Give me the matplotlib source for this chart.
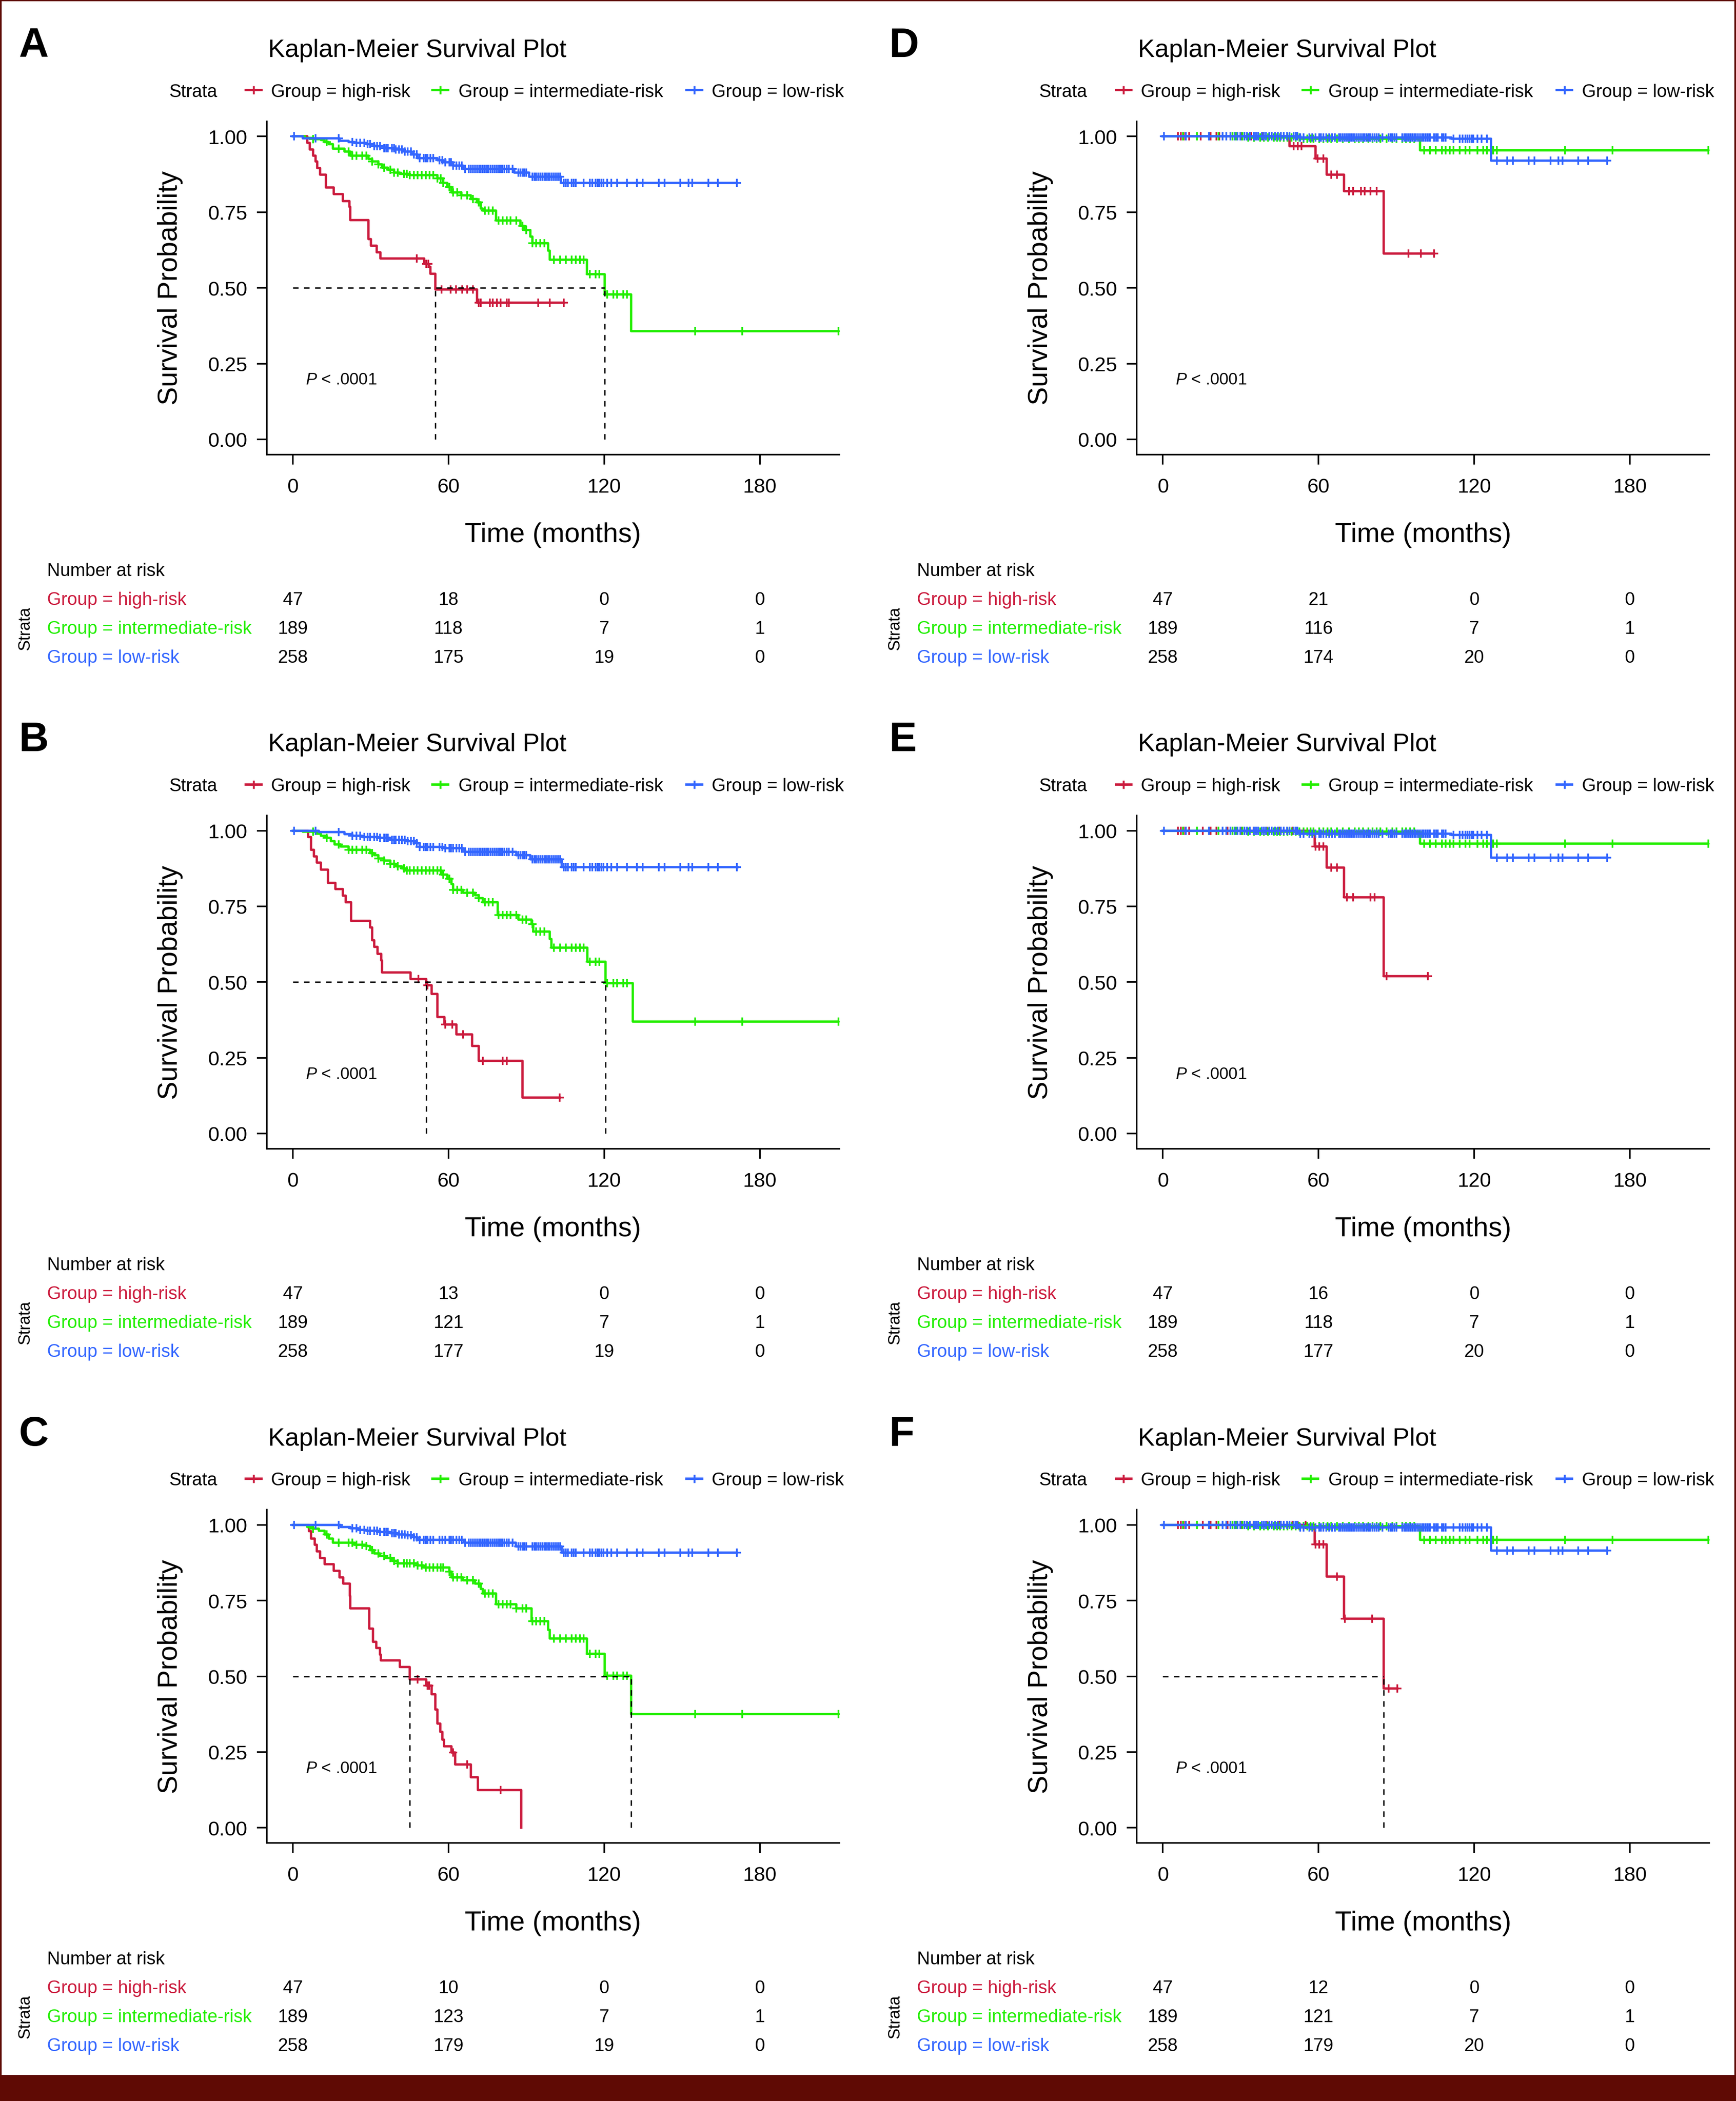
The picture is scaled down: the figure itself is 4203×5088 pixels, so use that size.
import matplotlib.pyplot as plt
import numpy as np
from matplotlib.lines import Line2D
from matplotlib.patches import Rectangle
from matplotlib import transforms

plt.rcParams['font.family'] = ['Liberation Sans', 'DejaVu Sans']
plt.rcParams['mathtext.fontset'] = 'custom'
plt.rcParams['mathtext.it'] = 'Liberation Sans:italic'
plt.rcParams['mathtext.rm'] = 'Liberation Sans'

# colours
RED, GREEN, BLUE = '#CB1B3D', '#22EE00', '#3366FF'
BORDER = '#5F0A04'

groups = ['Group = high-risk', 'Group = intermediate-risk', 'Group = low-risk']
risk_times = [0, 60, 120, 180]

# ---- panel A ----
A_high_t = [0, 5.5, 6.5, 7.8, 8.8, 9.4, 10.5, 12.8, 15.8, 19.2, 21.8, 22.2, 29.1, 30.1, 32.4, 33.7, 50.7, 52.4, 53.1, 55.0, 71.0, 104.5]
A_high_s = [1, 0.979, 0.957, 0.937, 0.917, 0.896, 0.874, 0.832, 0.810, 0.787, 0.768, 0.724, 0.661, 0.640, 0.618, 0.597, 0.579, 0.570, 0.547, 0.495, 0.451, 0.451]
A_high_c = [47.8, 51.5, 52.3, 57.3, 60.8, 62.9, 65.3, 67.2, 69.4, 71.7, 72.5, 76.0, 77.1, 78.6, 80.1, 82.4, 83.2, 94.6, 99.1, 104.5]
A_int_t = [0, 4.7, 7.8, 10.8, 12.3, 13.8, 15.4, 19.9, 22.2, 29.1, 30.6, 32.9, 34.4, 36.7, 39.0, 41.3, 45.1, 55.7, 58.0, 59.5, 61.1, 64.9, 68.7, 71.0, 72.5, 73.3, 78.3, 87.7, 89.2, 91.5, 92.3, 98.4, 99.1, 113.3, 120.2, 130.4, 210.3]
A_int_s = [1, 0.995, 0.991, 0.988, 0.982, 0.975, 0.960, 0.950, 0.936, 0.925, 0.918, 0.908, 0.897, 0.890, 0.881, 0.877, 0.872, 0.861, 0.847, 0.833, 0.815, 0.805, 0.794, 0.783, 0.762, 0.755, 0.723, 0.705, 0.691, 0.670, 0.647, 0.623, 0.593, 0.545, 0.478, 0.357, 0.357]
A_low_t = [0, 3.9, 18.0, 21.5, 23.7, 28.3, 31.4, 35.2, 39.7, 42.8, 45.8, 48.1, 55.7, 58.0, 61.8, 65.6, 85.4, 91.1, 103.3, 171.2]
A_low_s = [1, 0.994, 0.986, 0.982, 0.979, 0.975, 0.968, 0.961, 0.957, 0.950, 0.940, 0.929, 0.922, 0.915, 0.904, 0.893, 0.881, 0.867, 0.846, 0.846]
A_risk = [[47, 18, 0, 0], [189, 118, 7, 1], [258, 175, 19, 0]]

# ---- panel B ----
B_high_t = [0, 5.9, 7.0, 8.2, 9.3, 10.8, 13.5, 16.4, 19.2, 20.4, 22.5, 29.8, 30.6, 31.4, 32.6, 34.1, 34.4, 45.4, 51.5, 53.5, 55.7, 58.5, 63.0, 69.1, 71.7, 88.5, 102.9]
B_high_s = [1, 0.979, 0.937, 0.915, 0.894, 0.871, 0.828, 0.807, 0.785, 0.764, 0.702, 0.681, 0.638, 0.617, 0.593, 0.571, 0.532, 0.510, 0.489, 0.461, 0.384, 0.360, 0.328, 0.289, 0.240, 0.119, 0.119]
B_high_c = [48.4, 51.9, 58.8, 61.5, 65.6, 73.3, 80.9, 82.4, 102.9]
B_int_t = [0, 3.9, 9.3, 10.8, 13.1, 14.6, 16.1, 18.4, 21.5, 29.8, 31.4, 32.9, 35.2, 37.5, 39.7, 42.0, 43.5, 57.3, 59.5, 61.1, 61.8, 65.6, 70.2, 71.7, 73.3, 78.9, 87.0, 92.0, 92.6, 99.1, 99.6, 113.6, 120.5, 131.1, 210.8]
B_int_s = [1, 0.997, 0.990, 0.983, 0.976, 0.965, 0.955, 0.947, 0.937, 0.926, 0.919, 0.908, 0.901, 0.891, 0.882, 0.876, 0.869, 0.855, 0.841, 0.823, 0.805, 0.795, 0.787, 0.777, 0.763, 0.721, 0.706, 0.692, 0.667, 0.642, 0.613, 0.567, 0.496, 0.370, 0.370]
B_low_t = [0, 10.0, 19.9, 23.0, 26.8, 32.9, 37.5, 43.5, 47.4, 48.9, 58.0, 65.6, 66.4, 86.2, 91.5, 103.7, 171.5]
B_low_s = [1, 0.996, 0.989, 0.983, 0.979, 0.976, 0.970, 0.965, 0.958, 0.946, 0.942, 0.937, 0.930, 0.919, 0.906, 0.880, 0.880]
B_risk = [[47, 13, 0, 0], [189, 121, 7, 1], [258, 177, 19, 0]]

# ---- panel C ----
C_high_t = [0, 6.2, 7.0, 8.5, 9.3, 10.5, 12.3, 15.8, 18.0, 19.5, 21.9, 22.2, 29.5, 30.9, 32.1, 33.6, 33.9, 41.3, 45.1, 51.5, 53.5, 55.0, 55.7, 56.9, 57.7, 58.3, 61.1, 62.6, 68.7, 71.3, 88.0]
C_high_s = [1, 0.979, 0.955, 0.934, 0.913, 0.891, 0.870, 0.849, 0.827, 0.806, 0.765, 0.724, 0.657, 0.614, 0.593, 0.571, 0.552, 0.531, 0.490, 0.470, 0.441, 0.390, 0.344, 0.316, 0.291, 0.269, 0.248, 0.209, 0.166, 0.124, 0.0]
C_high_c = [48.1, 51.9, 52.6, 61.8, 67.2, 80.1]
C_int_t = [0, 5.5, 7.8, 10.0, 12.3, 13.8, 15.4, 23.7, 28.3, 29.8, 31.4, 33.6, 35.9, 38.2, 40.5, 48.1, 50.4, 60.3, 61.1, 65.6, 70.2, 72.5, 73.3, 78.3, 86.2, 92.0, 98.4, 99.1, 113.3, 120.2, 130.4, 210.3]
C_int_s = [1, 0.993, 0.987, 0.980, 0.969, 0.955, 0.941, 0.934, 0.930, 0.916, 0.905, 0.898, 0.891, 0.881, 0.873, 0.866, 0.859, 0.845, 0.827, 0.817, 0.806, 0.788, 0.774, 0.738, 0.724, 0.682, 0.653, 0.625, 0.574, 0.502, 0.375, 0.375]
C_low_t = [0, 18.4, 22.2, 25.3, 28.3, 32.9, 37.5, 40.5, 43.5, 46.6, 48.1, 66.1, 85.9, 103.7, 171.2]
C_low_s = [1, 0.993, 0.989, 0.984, 0.980, 0.977, 0.973, 0.969, 0.966, 0.959, 0.950, 0.941, 0.929, 0.908, 0.908]
C_risk = [[47, 10, 0, 0], [189, 123, 7, 1], [258, 179, 19, 0]]

# ---- panel D ----
D_high_t = [0, 48.9, 58.8, 63.1, 69.9, 85.1, 104.5]
D_high_s = [1, 0.968, 0.927, 0.874, 0.819, 0.613, 0.613]
D_high_c = [5.9, 7.0, 8.1, 10.1, 13.1, 14.6, 18.4, 20.7, 21.8, 26.0, 30.5, 34.0, 38.5, 42.0, 45.5, 50.4, 52.0, 53.5, 59.6, 61.8, 64.9, 67.2, 71.7, 73.3, 76.3, 77.8, 80.1, 82.4, 94.6, 99.5, 104.5]
D_int_t = [0, 32.9, 53.5, 99.2, 210.4]
D_int_s = [1, 0.996, 0.993, 0.954, 0.954]
D_low_t = [0, 52.7, 111.3, 126.6, 171.2]
D_low_s = [1, 0.996, 0.992, 0.920, 0.920]
D_risk = [[47, 21, 0, 0], [189, 116, 7, 1], [258, 174, 20, 0]]

# ---- panel E ----
E_high_t = [0, 58.5, 63.1, 69.9, 85.1, 102.2]
E_high_s = [1, 0.947, 0.878, 0.780, 0.520, 0.520]
E_high_c = [5.9, 7.0, 8.1, 10.1, 13.1, 15.4, 18.4, 20.7, 25.0, 30.0, 35.0, 40.0, 45.0, 50.0, 58.8, 60.3, 61.8, 64.9, 67.2, 71.0, 73.3, 80.1, 81.6, 86.2, 102.2]
E_int_t = [0, 32.9, 99.2, 210.4]
E_int_s = [1, 0.997, 0.957, 0.957]
E_low_t = [0, 52.7, 111.3, 126.6, 171.2]
E_low_s = [1, 0.990, 0.986, 0.911, 0.911]
E_risk = [[47, 16, 0, 0], [189, 118, 7, 1], [258, 177, 20, 0]]

# ---- panel F ----
F_high_t = [0, 58.5, 63.1, 69.9, 85.1, 90.3]
F_high_s = [1, 0.936, 0.829, 0.690, 0.460, 0.460]
F_high_c = [5.9, 7.0, 8.1, 10.1, 13.1, 15.4, 18.4, 20.7, 25.0, 30.0, 35.0, 40.0, 45.0, 50.0, 52.0, 55.0, 58.8, 60.3, 61.8, 67.2, 70.2, 80.6, 87.0, 90.3]
F_int_t = [0, 32.9, 99.2, 210.4]
F_int_s = [1, 0.996, 0.950, 0.950]
F_low_t = [0, 52.7, 126.6, 171.2]
F_low_s = [1, 0.991, 0.915, 0.915]
F_risk = [[47, 12, 0, 0], [189, 121, 7, 1], [258, 179, 20, 0]]

# censoring times shared by the intermediate and low-risk groups
int_cens = [7.8, 13.1, 17.7, 21.5, 23.0, 24.5, 26.8, 28.3, 30.6, 32.9, 35.2, 37.5, 39.0, 40.5, 42.8, 44.0, 45.1, 46.6,
            48.1, 49.6, 51.2, 52.7, 54.2, 55.7, 57.0, 58.0, 60.3, 61.8, 63.4, 64.9, 67.2, 69.4, 71.7, 74.0, 75.5, 77.1,
            79.3, 80.9, 82.4, 83.9, 86.2, 88.5, 90.0, 92.3, 93.8, 95.3, 96.9, 100.7, 103.0, 105.2, 107.5, 109.0, 110.6,
            112.1, 114.4, 116.7, 118.2, 121.2, 123.5, 125.0, 127.3, 128.8, 155.0, 173.3, 210.3]
low_cens = [0.5, 8.8, 17.7, 23.0, 24.5, 26.0, 27.6, 28.8, 29.8, 31.4, 32.5, 33.6, 35.2, 36.0, 36.7, 38.2, 39.0, 39.7,
            41.0, 42.0, 43.2, 44.3, 45.5, 46.6, 47.8, 48.9, 50.4, 51.2, 51.9, 53.0, 54.2, 56.5, 57.6, 58.8, 60.3, 61.0,
            61.8, 63.0, 64.1, 65.2, 66.4, 67.9, 68.6, 69.4, 70.2, 71.0, 71.8, 72.5, 73.3, 74.0, 74.8, 75.5, 76.3, 77.1,
            77.8, 78.6, 79.4, 80.1, 80.8, 81.6, 82.4, 83.2, 84.7, 87.0, 87.8, 88.5, 89.2, 90.0, 92.3, 93.1, 93.8, 94.5,
            95.3, 96.1, 96.9, 97.6, 98.4, 99.1, 99.9, 100.6, 101.4, 102.2, 103.0, 104.5, 105.3, 106.0, 107.5, 108.2,
            109.0, 112.1, 114.4, 115.5, 116.7, 117.5, 118.2, 119.0, 119.7, 121.2, 122.8, 125.0, 128.8, 132.7, 134.9,
            141.0, 143.3, 149.4, 152.5, 154.0, 160.1, 163.9, 171.2]

panels = [
    ('A', 0, 0, [(A_high_t, A_high_s, A_high_c), (A_int_t, A_int_s, int_cens), (A_low_t, A_low_s, low_cens)], A_risk),
    ('B', 0, 1, [(B_high_t, B_high_s, B_high_c), (B_int_t, B_int_s, int_cens), (B_low_t, B_low_s, low_cens)], B_risk),
    ('C', 0, 2, [(C_high_t, C_high_s, C_high_c), (C_int_t, C_int_s, int_cens), (C_low_t, C_low_s, low_cens)], C_risk),
    ('D', 1, 0, [(D_high_t, D_high_s, D_high_c), (D_int_t, D_int_s, int_cens), (D_low_t, D_low_s, low_cens)], D_risk),
    ('E', 1, 1, [(E_high_t, E_high_s, E_high_c), (E_int_t, E_int_s, int_cens), (E_low_t, E_low_s, low_cens)], E_risk),
    ('F', 1, 2, [(F_high_t, F_high_s, F_high_c), (F_int_t, F_int_s, int_cens), (F_low_t, F_low_s, low_cens)], F_risk),
]
colors = [RED, GREEN, BLUE]

# layout units: the reference at 1295 x 1568
W, H = 1295.0, 1568.0


def fx(x):
    return x / W


def fy(y):
    return 1 - y / H


fig = plt.figure(figsize=(14.01, 16.963))

for letter, col, row, curves, risk in panels:
    ox = col * 649
    oy = row * 518

    ax = fig.add_axes([fx(ox + 198.9), fy(oy + 339.4), (626 - 198.9) / W, (339.4 - 90.8) / H])
    ax.set_xlim(-10.1, 210.6)
    ax.set_ylim(-0.05, 1.05)
    ax.spines['top'].set_visible(False)
    ax.spines['right'].set_visible(False)
    for sp in ['left', 'bottom']:
        ax.spines[sp].set_linewidth(0.9)
    ax.set_xticks(risk_times)
    ax.set_yticks([0, 0.25, 0.5, 0.75, 1.0])
    ax.set_yticklabels(['0.00', '0.25', '0.50', '0.75', '1.00'])
    ax.tick_params(length=5.8, width=0.9, labelsize=11.8, pad=5.5)
    ax.tick_params(axis='x', pad=7.8)

    medians = []
    for (t, s, cens), c in zip(curves, colors):
        t = np.array(t)
        s = np.array(s)
        ax.step(t, s, where='post', color=c, lw=1.35, zorder=3)
        cc = np.array([v for v in cens if v <= t[-1]])
        idx = np.searchsorted(t, cc, side='right') - 1
        ax.plot(cc, s[idx], ls='none', marker='+', ms=4.6, mew=1.0, color=c, zorder=3)
        below = np.where(s <= 0.5)[0]
        if len(below):
            medians.append(t[below[0]])

    if medians:
        ax.plot([0, max(medians)], [0.5, 0.5], color='black', lw=0.8, ls=(0, (4, 4)), zorder=4)
        for m in medians:
            ax.plot([m, m], [0, 0.5], color='black', lw=0.8, ls=(0, (4, 4)), zorder=4)

    # titles and labels
    fig.text(fx(ox + 14), fy(oy + 42.6), letter, fontsize=24, fontweight='bold', va='baseline')
    fig.text(fx(ox + 200), fy(oy + 42.6), 'Kaplan-Meier Survival Plot', fontsize=14.7, va='baseline')
    fig.text(fx(ox + 127), fy(oy + 215), 'Survival Probability', fontsize=16, rotation=90,
             ha='center', va='center')
    fig.text(fx(ox + 412.5), fy(oy + 404.5), 'Time (months)', fontsize=16, ha='center', va='baseline')
    fig.text(fx(ox + 228), fy(oy + 287), r'$P$ < .0001', fontsize=9.6, va='baseline')

    # legend
    fig.text(fx(ox + 126), fy(oy + 72.4), 'Strata', fontsize=10.5, va='baseline')
    for cx, tx, g, c in zip([189.2, 328.5, 518.0], [202, 342, 531], groups, colors):
        fig.add_artist(Line2D([fx(ox + cx - 5.8), fx(ox + cx + 5.8)], [fy(oy + 67.6)] * 2,
                              transform=fig.transFigure, color=c, lw=1.4))
        fig.add_artist(Line2D([fx(ox + cx)], [fy(oy + 67.6)], transform=fig.transFigure,
                              color=c, marker='+', ms=5, mew=1.1, ls='none'))
        fig.text(fx(ox + tx), fy(oy + 72.4), g, fontsize=10.5, va='baseline')

    # number at risk table
    fig.text(fx(ox + 35), fy(oy + 429.8), 'Number at risk', fontsize=10.5, va='baseline')
    fig.text(fx(ox + 18.5), fy(oy + 469), 'Strata', fontsize=9.5, rotation=90, ha='center', va='center')
    trans = transforms.blended_transform_factory(ax.transData, fig.transFigure)
    for yb, g, c, nums in zip([451.4, 473.0, 494.5], groups, colors, risk):
        fig.text(fx(ox + 35), fy(oy + yb), g, fontsize=10.5, color=c, va='baseline')
        for tt, n in zip(risk_times, nums):
            fig.text(tt, fy(oy + yb), str(n), fontsize=10.5, ha='center', va='baseline', transform=trans)

# dark red frame
fig.add_artist(Rectangle((0, 0), 1, 1 - 1548.6 / H, transform=fig.transFigure, color=BORDER, lw=0))
fig.add_artist(Rectangle((0, 1 - 4 / 5089), 1, 4 / 5089, transform=fig.transFigure, color=BORDER, lw=0))
fig.add_artist(Rectangle((0, 0), 4 / 4203, 1, transform=fig.transFigure, color=BORDER, lw=0))
fig.add_artist(Rectangle((1 - 4 / 4203, 0), 4 / 4203, 1, transform=fig.transFigure, color=BORDER, lw=0))

fig.savefig('out.png', dpi=300)
